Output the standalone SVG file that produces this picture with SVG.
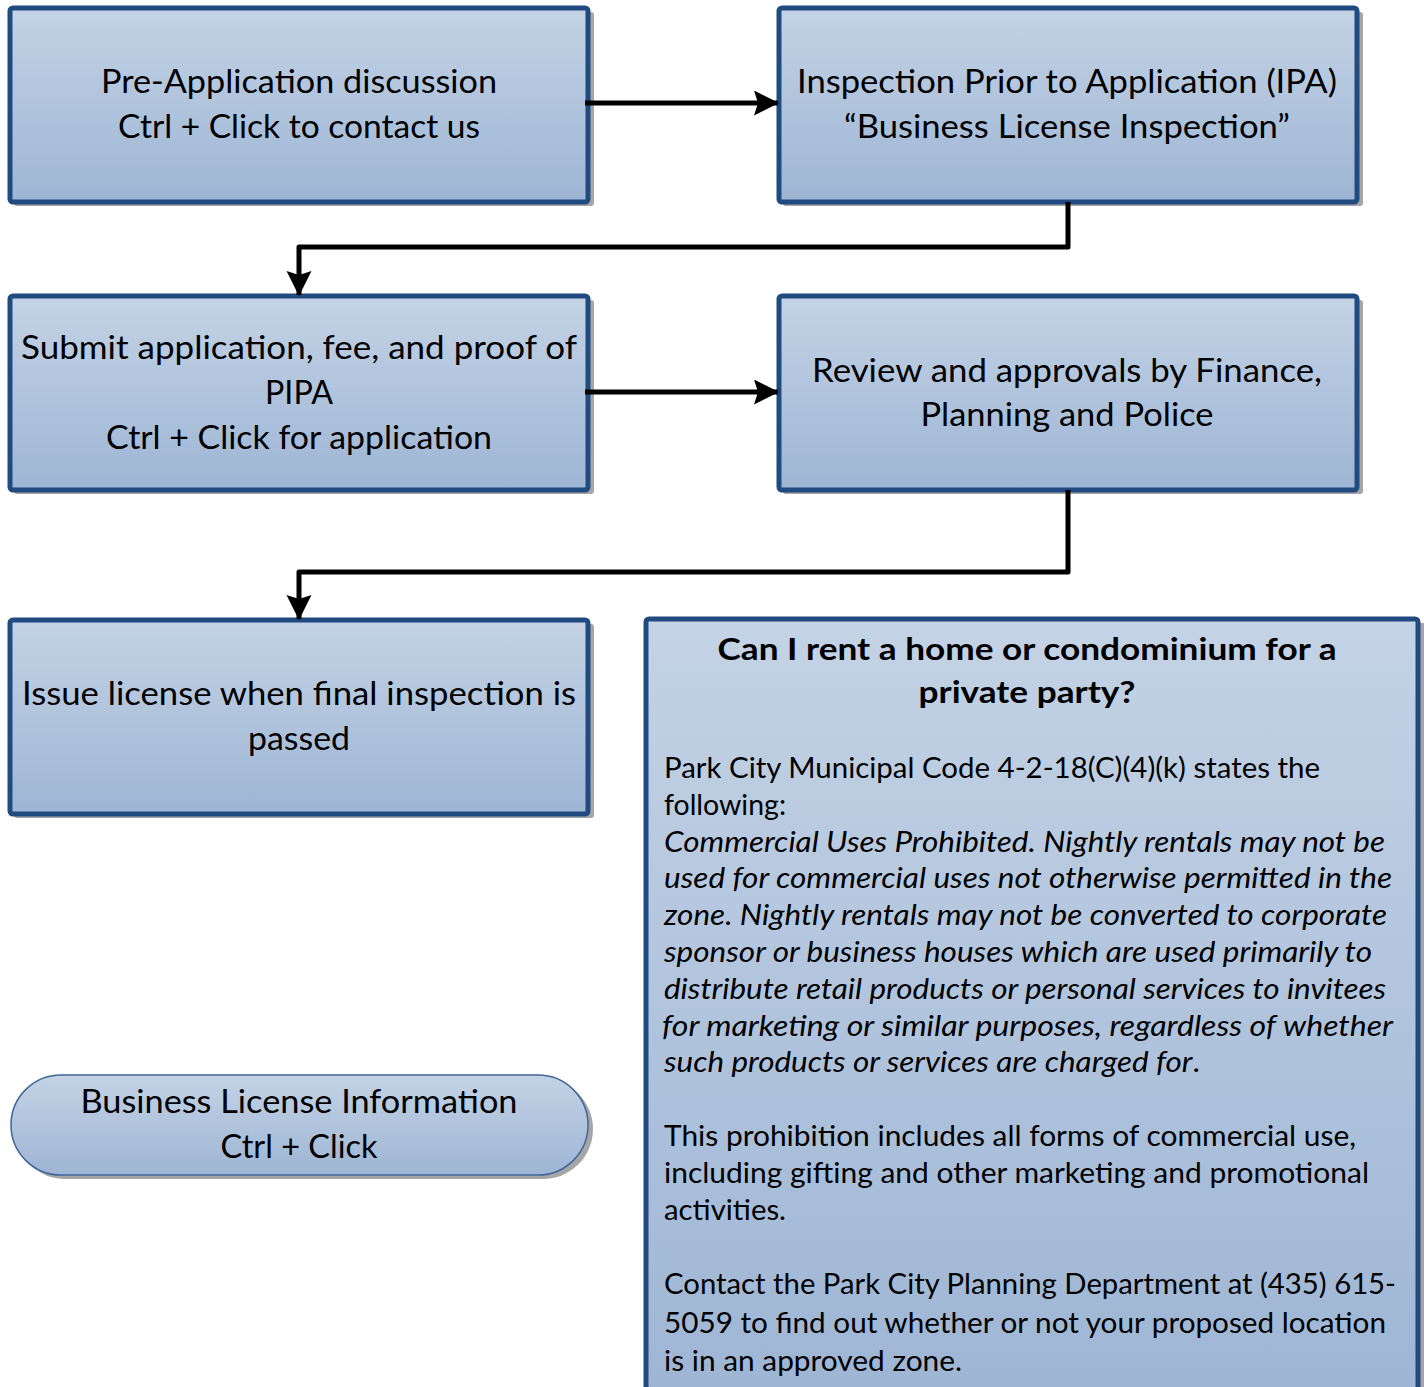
<svg xmlns="http://www.w3.org/2000/svg" width="1424" height="1387" viewBox="0 0 1424 1387">
<defs>
<linearGradient id="g" x1="0" y1="0" x2="0" y2="1">
<stop offset="0" stop-color="#c4d3e5"/>
<stop offset="1" stop-color="#9db5d4"/>
</linearGradient>
<marker id="ah" markerWidth="5.2" markerHeight="5.2" refX="4.8" refY="2.5" orient="auto" markerUnits="strokeWidth">
<path d="M0,0 L5,2.5 L0,5 L0.8,2.5 Z" fill="#000"/>
</marker>
</defs>
<style>
.box{fill:url(#g);stroke:#214b80;stroke-width:5}
.sh{fill:#a6a6a6}
.t{font-family:Lato,"Open Sans","Liberation Sans",sans-serif;font-size:32px;fill:#000;text-anchor:middle}
.b{font-family:Lato,"Open Sans","Liberation Sans",sans-serif;font-size:28px;fill:#000}
.bi{font-style:italic}
.h{font-family:Lato,"Open Sans","Liberation Sans",sans-serif;font-size:31px;font-weight:bold;fill:#000;text-anchor:middle}
.c{fill:none;stroke:#000;stroke-width:5;stroke-linejoin:round}
</style>
<rect width="1424" height="1387" fill="#fff"/>

<g id="n1">
<rect class="sh" x="14" y="12" width="580" height="194" rx="3"/>
<rect class="box" x="10" y="8" width="578" height="194" rx="3"/>
<text class="t" x="299" y="93" textLength="396" lengthAdjust="spacingAndGlyphs">Pre-Application discussion</text>
<text class="t" x="299" y="138" textLength="362" lengthAdjust="spacingAndGlyphs">Ctrl + Click to contact us</text>
</g>

<g id="n2">
<rect class="sh" x="783" y="12" width="580" height="194" rx="3"/>
<rect class="box" x="779" y="8" width="578" height="194" rx="3"/>
<text class="t" x="1067" y="93" textLength="540" lengthAdjust="spacingAndGlyphs">Inspection Prior to Application (IPA)</text>
<text class="t" x="1067" y="138" textLength="446" lengthAdjust="spacingAndGlyphs">“Business License Inspection”</text>
</g>

<g id="n3">
<rect class="sh" x="14" y="300" width="580" height="194" rx="3"/>
<rect class="box" x="10" y="296" width="578" height="194" rx="3"/>
<text class="t" x="299" y="359" textLength="556" lengthAdjust="spacingAndGlyphs">Submit application, fee, and proof of</text>
<text class="t" x="299" y="404" textLength="68" lengthAdjust="spacingAndGlyphs">PIPA</text>
<text class="t" x="299" y="449" textLength="386" lengthAdjust="spacingAndGlyphs">Ctrl + Click for application</text>
</g>

<g id="n4">
<rect class="sh" x="783" y="300" width="580" height="194" rx="3"/>
<rect class="box" x="779" y="296" width="578" height="194" rx="3"/>
<text class="t" x="1067" y="382" textLength="510" lengthAdjust="spacingAndGlyphs">Review and approvals by Finance,</text>
<text class="t" x="1067" y="426" textLength="293" lengthAdjust="spacingAndGlyphs">Planning and Police</text>
</g>

<g id="n5">
<rect class="sh" x="14" y="624" width="580" height="194" rx="3"/>
<rect class="box" x="10" y="620" width="578" height="194" rx="3"/>
<text class="t" x="299" y="705" textLength="554" lengthAdjust="spacingAndGlyphs">Issue license when final inspection is</text>
<text class="t" x="299" y="750" textLength="102" lengthAdjust="spacingAndGlyphs">passed</text>
</g>

<g id="n6">
<rect class="sh" x="15" y="1079" width="578" height="100" rx="50"/>
<rect x="11" y="1075" width="577" height="100" rx="50" fill="url(#g)" stroke="#41669a" stroke-width="1.5"/>
<text class="t" x="299" y="1113" textLength="437" lengthAdjust="spacingAndGlyphs">Business License Information</text>
<text class="t" x="299" y="1158" textLength="157" lengthAdjust="spacingAndGlyphs">Ctrl + Click</text>
</g>

<g id="n7">
<rect class="sh" x="650" y="623" width="774" height="790"/>
<rect class="box" x="646" y="619" width="772" height="790" rx="3"/>
<text class="h" x="1027" y="660" textLength="619" lengthAdjust="spacingAndGlyphs">Can I rent a home or condominium for a</text>
<text class="h" x="1027" y="703" textLength="217" lengthAdjust="spacingAndGlyphs">private party?</text>
<text class="b" x="664" y="778" textLength="656" lengthAdjust="spacingAndGlyphs">Park City Municipal Code 4-2-18(C)(4)(k) states the</text>
<text class="b" x="664" y="815" textLength="122" lengthAdjust="spacingAndGlyphs">following:</text>
<text class="b bi" x="664" y="852" textLength="721" lengthAdjust="spacingAndGlyphs">Commercial Uses Prohibited. Nightly rentals may not be</text>
<text class="b bi" x="664" y="888" textLength="728" lengthAdjust="spacingAndGlyphs">used for commercial uses not otherwise permitted in the</text>
<text class="b bi" x="664" y="925" textLength="723" lengthAdjust="spacingAndGlyphs">zone. Nightly rentals may not be converted to corporate</text>
<text class="b bi" x="664" y="962" textLength="708" lengthAdjust="spacingAndGlyphs">sponsor or business houses which are used primarily to</text>
<text class="b bi" x="664" y="999" textLength="722" lengthAdjust="spacingAndGlyphs">distribute retail products or personal services to invitees</text>
<text class="b bi" x="662" y="1036" textLength="731" lengthAdjust="spacingAndGlyphs">for marketing or similar purposes, regardless of whether</text>
<text class="b" x="664" y="1072" textLength="536" lengthAdjust="spacingAndGlyphs"><tspan class="bi">such products or services are charged for</tspan>.</text>
<text class="b" x="664" y="1146" textLength="692" lengthAdjust="spacingAndGlyphs">This prohibition includes all forms of commercial use,</text>
<text class="b" x="664" y="1183" textLength="705" lengthAdjust="spacingAndGlyphs">including gifting and other marketing and promotional</text>
<text class="b" x="664" y="1220" textLength="122" lengthAdjust="spacingAndGlyphs">activities.</text>
<text class="b" x="664" y="1294" textLength="732" lengthAdjust="spacingAndGlyphs">Contact the Park City Planning Department at (435) 615-</text>
<text class="b" x="664" y="1333" textLength="722" lengthAdjust="spacingAndGlyphs">5059 to find out whether or not your proposed location</text>
<text class="b" x="664" y="1371" textLength="298" lengthAdjust="spacingAndGlyphs">is in an approved zone.</text>
</g>

<g id="connectors">
<path class="c" d="M585,103 H778" marker-end="url(#ah)"/>
<path class="c" d="M1068,202 V247 H299 V295" marker-end="url(#ah)"/>
<path class="c" d="M585,392 H778" marker-end="url(#ah)"/>
<path class="c" d="M1068,490 V572 H299 V619" marker-end="url(#ah)"/>
</g>
</svg>
